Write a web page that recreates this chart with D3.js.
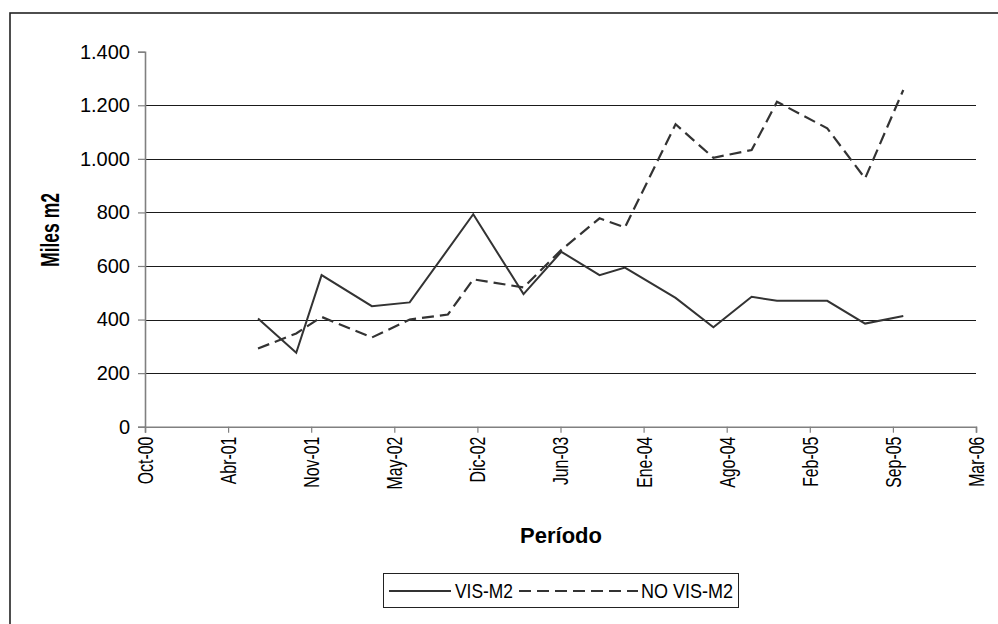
<!DOCTYPE html>
<html>
<head>
<meta charset="utf-8">
<script src="https://cdn.jsdelivr.net/npm/d3@7/dist/d3.min.js"></script>
<style>
  body { margin: 0; background: #fff; }
  svg { display: block; }
  text { font-family: Arial, "Liberation Sans", sans-serif; fill: #000; }
</style>
</head>
<body>
<svg id="chart" width="998" height="624"></svg>
<script>
// Period end dates (quarterly-ish reporting)
const periodDates = [
  "2001-06-30", "2001-09-30", "2001-11-30", "2002-03-31", "2002-06-30", "2002-09-30",
  "2002-11-30", "2003-03-31", "2003-06-30", "2003-09-30", "2003-11-30", "2004-03-31",
  "2004-06-30", "2004-09-30", "2004-11-30", "2005-03-31", "2005-06-30", "2005-09-30"
];
// Thousands of m2 per period
const visValues   = [404, 276, 566, 450, 464, null, 793, 495, 653, 566, 594, 481, 371, 485, 470, 470, 385, 413];
const noVisValues = [292, 348, 410, 333, 400, 419, 550, 520, 660, 778, 744, 1129, 1004, 1033, 1213, 1114, 927, 1257];
const seriesNames = ["VIS-M2", "NO VIS-M2"];

const yTicks = [0, 200, 400, 600, 800, 1000, 1200, 1400];
const xTickLabels = ["Oct-00", "Abr-01", "Nov-01", "May-02", "Dic-02", "Jun-03",
                     "Ene-04", "Ago-04", "Feb-05", "Sep-05", "Mar-06"];
const axisStartDate = "2000-10-01";
const tickStepDays = 200;

const svg = d3.select("#chart");
const parse = d3.utcParse("%Y-%m-%d");
const axisStart = parse(axisStartDate);
const xTickDates = xTickLabels.map((_, i) => d3.utcDay.offset(axisStart, i * tickStepDays));

const plot = { left: 145, right: 976, top: 51.7, bottom: 426.7 };

const x = d3.scaleUtc()
  .domain([axisStart, xTickDates[xTickDates.length - 1]])
  .range([plot.left, plot.right]);
const y = d3.scaleLinear().domain([0, 1400]).range([plot.bottom, plot.top]);

const esFormat = d3.formatLocale({ decimal: ",", thousands: ".", grouping: [3], currency: ["$", ""] }).format(",");

// outer frame of the chart object
svg.append("rect")
  .attr("x", 10).attr("y", 13).attr("width", 1000).attr("height", 700)
  .attr("fill", "none").attr("stroke", "#222").attr("stroke-width", 1.6);

// horizontal gridlines
svg.append("g").selectAll("line")
  .data(yTicks.filter(v => v > 0 && v < 1400))
  .join("line")
  .attr("x1", plot.left).attr("x2", plot.right)
  .attr("y1", d => Math.round(y(d)) + 0.5).attr("y2", d => Math.round(y(d)) + 0.5)
  .attr("stroke", "#1a1a1a").attr("stroke-width", 1);

// y axis
const yAxis = svg.append("g")
  .attr("transform", `translate(${plot.left},0)`)
  .call(d3.axisLeft(y).tickValues(yTicks).tickSize(7).tickPadding(8).tickFormat(esFormat));
yAxis.select(".domain").attr("stroke", "#808080").attr("stroke-width", 1.6);
yAxis.selectAll(".tick line").attr("stroke", "#808080").attr("stroke-width", 1.2);
yAxis.selectAll(".tick text")
  .attr("font-size", 20).attr("fill", "#111").attr("font-family", "Arial, 'Liberation Sans', sans-serif");

// x axis
const xAxis = svg.append("g")
  .attr("transform", `translate(0,${plot.bottom})`)
  .call(d3.axisBottom(x).tickValues(xTickDates).tickSize(6).tickFormat((d, i) => xTickLabels[i]));
xAxis.select(".domain").attr("stroke", "#808080").attr("stroke-width", 1.6);
xAxis.selectAll(".tick line").attr("stroke", "#808080").attr("stroke-width", 1.2);
xAxis.selectAll(".tick text")
  .attr("font-size", 22).attr("fill", "#111").attr("font-family", "Arial, 'Liberation Sans', sans-serif")
  .attr("text-anchor", "end").attr("dy", null).attr("y", null)
  .attr("dominant-baseline", "central")
  .attr("transform", "translate(0,10) rotate(-90) scale(0.72,1)");

// axis titles
svg.append("text")
  .attr("transform", "translate(50,230) rotate(-90) scale(0.7,1)")
  .attr("text-anchor", "middle").attr("dominant-baseline", "central")
  .attr("font-size", 25).attr("font-weight", "bold").text("Miles m2");
svg.append("text")
  .attr("x", 561).attr("y", 543)
  .attr("text-anchor", "middle")
  .attr("font-size", 22).attr("font-weight", "bold").text("Período");

// series lines
const line = d3.line().x(d => x(d.date)).y(d => y(d.value));
const toPoints = vals => periodDates
  .map((s, i) => ({ date: parse(s), value: vals[i] }))
  .filter(d => d.value != null);

svg.append("path")
  .datum(toPoints(noVisValues))
  .attr("d", line)
  .attr("fill", "none").attr("stroke", "#333").attr("stroke-width", 2.2)
  .attr("stroke-dasharray", "12,6");
svg.append("path")
  .datum(toPoints(visValues))
  .attr("d", line)
  .attr("fill", "none").attr("stroke", "#333").attr("stroke-width", 2);

// legend
const lg = svg.append("g");
lg.append("rect")
  .attr("x", 383.5).attr("y", 573.5).attr("width", 355).attr("height", 34)
  .attr("fill", "#fff").attr("stroke", "#222").attr("stroke-width", 1);
lg.append("line").attr("x1", 389).attr("x2", 451).attr("y1", 591).attr("y2", 591)
  .attr("stroke", "#333").attr("stroke-width", 2);
lg.append("text").attr("x", 455).attr("y", 598).attr("font-size", 21)
  .attr("textLength", 58).attr("lengthAdjust", "spacingAndGlyphs").text(seriesNames[0]);
lg.append("line").attr("x1", 519).attr("x2", 638).attr("y1", 591).attr("y2", 591)
  .attr("stroke", "#333").attr("stroke-width", 2).attr("stroke-dasharray", "12,6");
lg.append("text").attr("x", 641).attr("y", 598).attr("font-size", 21)
  .attr("textLength", 92).attr("lengthAdjust", "spacingAndGlyphs").text(seriesNames[1]);
</script>
</body>
</html>
